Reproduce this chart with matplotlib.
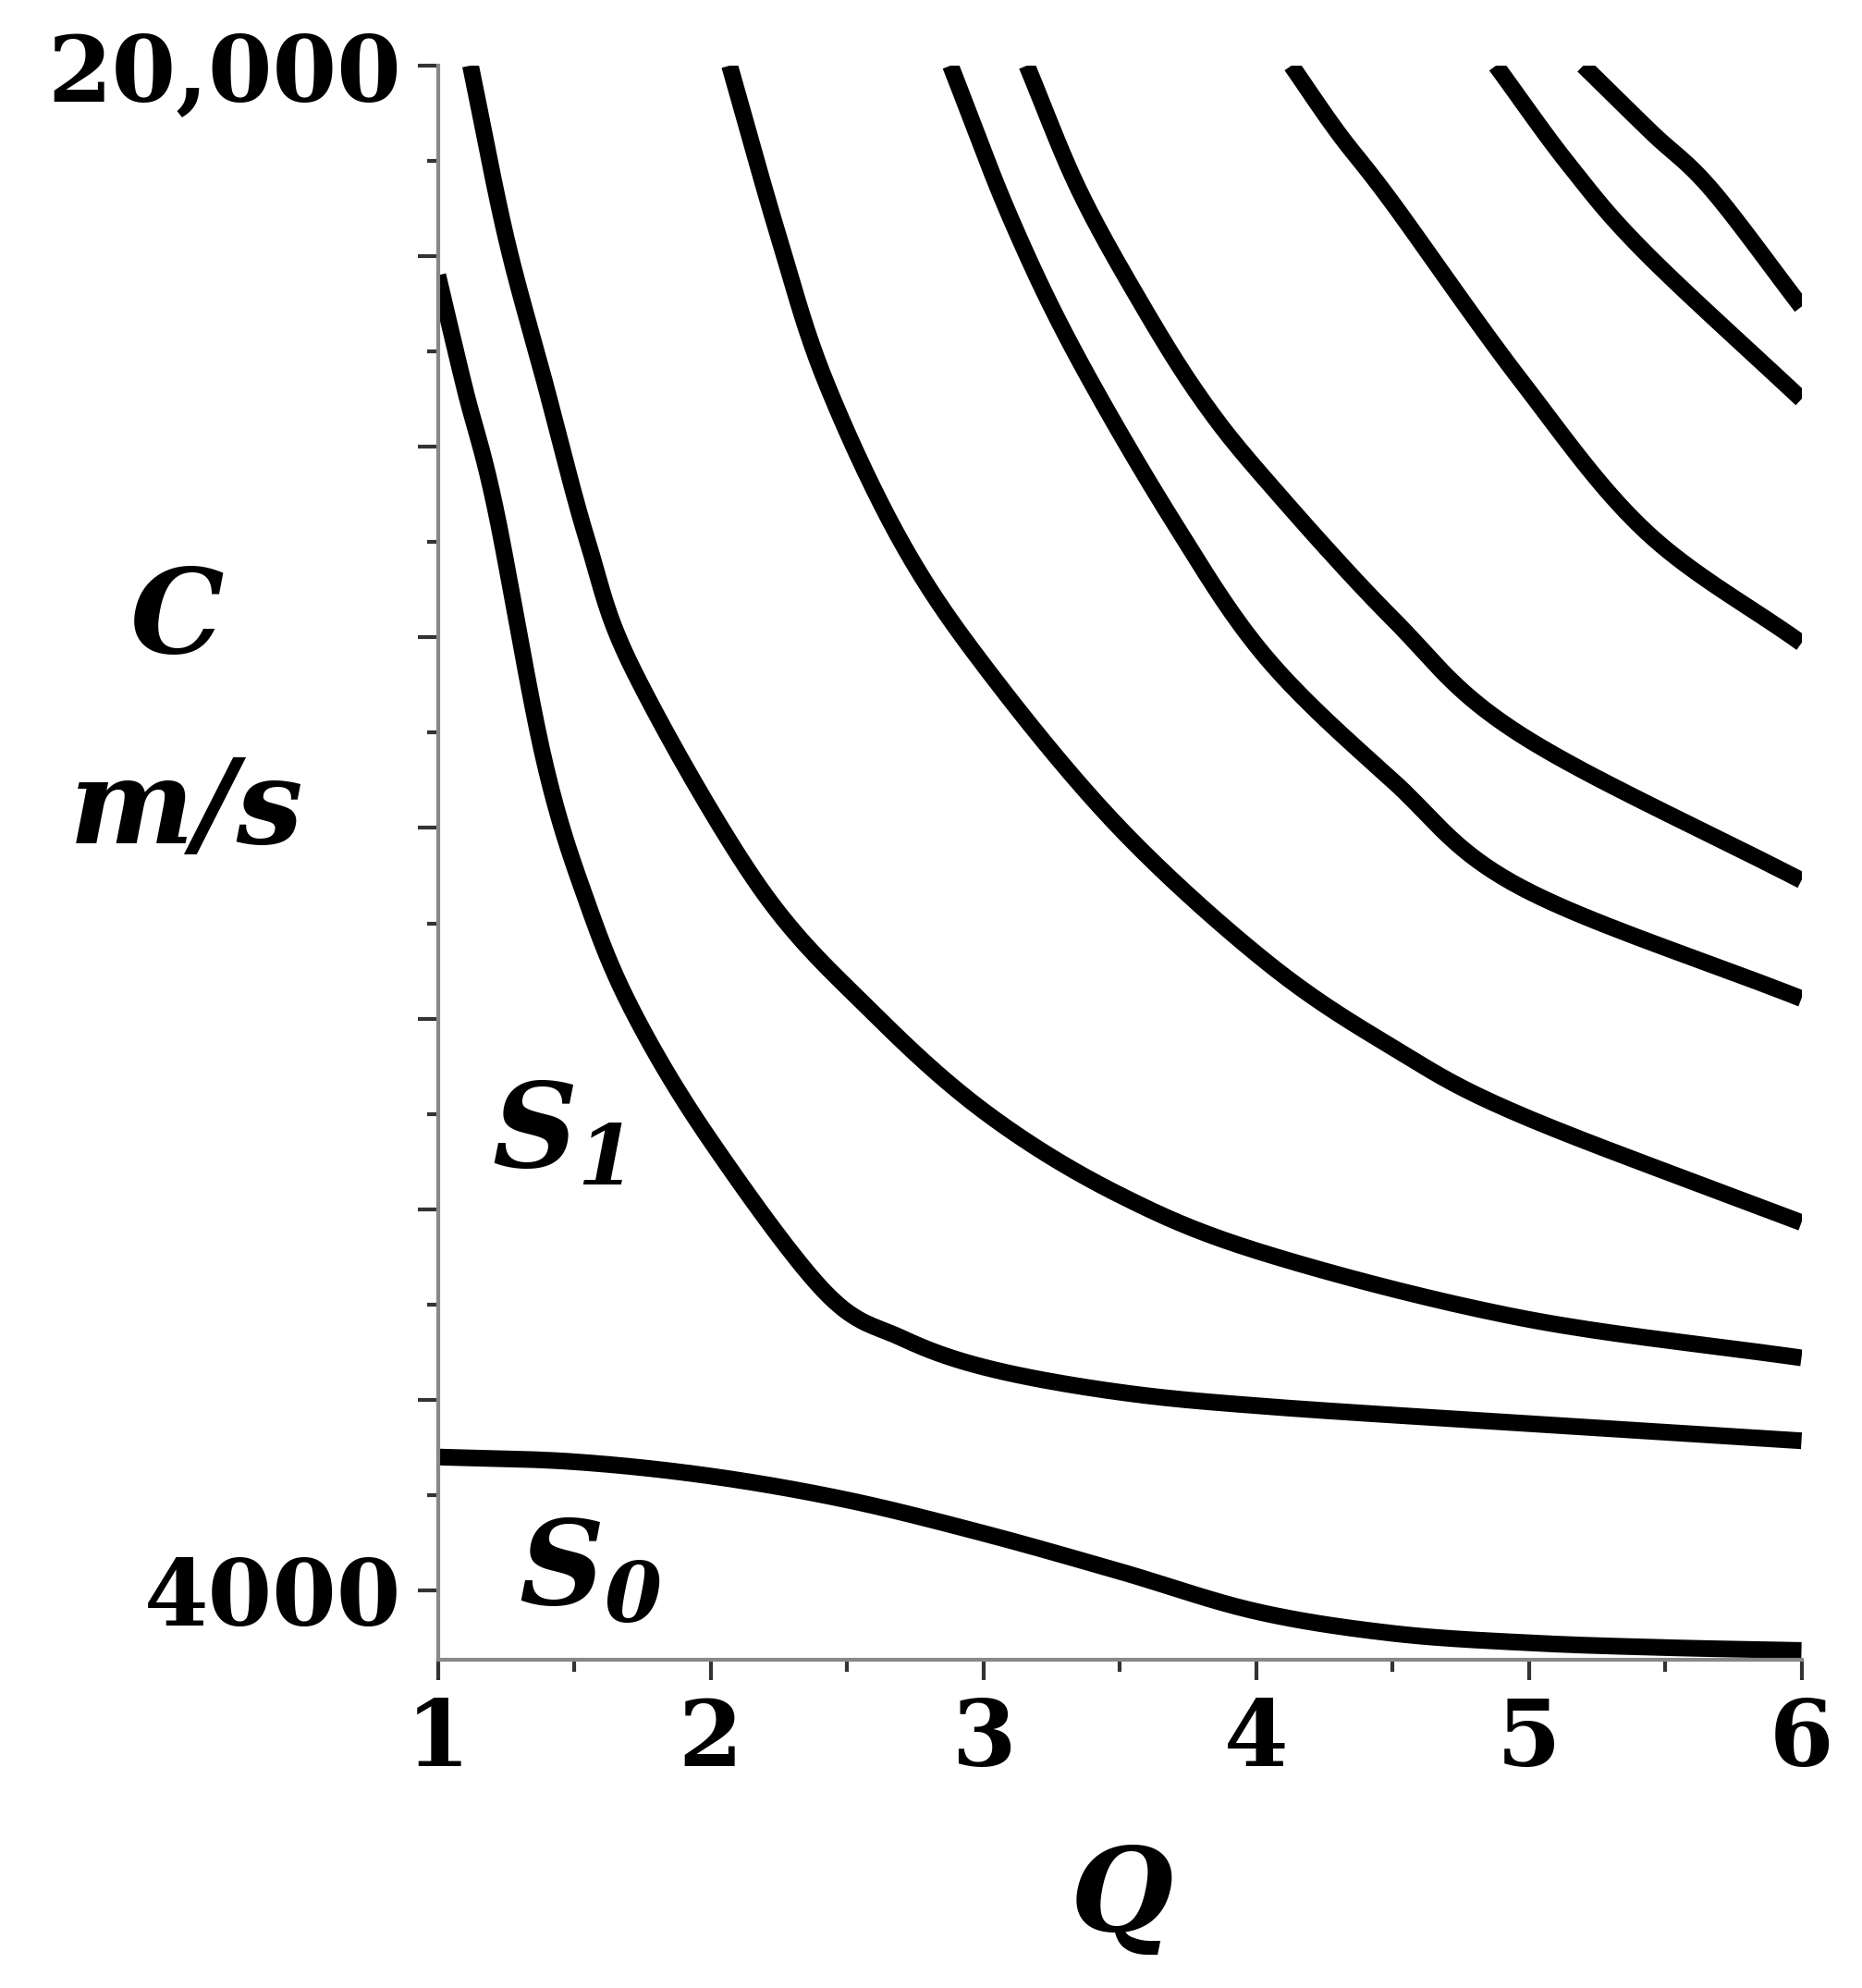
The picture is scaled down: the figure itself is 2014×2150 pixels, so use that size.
import numpy as np
import matplotlib.pyplot as plt

plt.rcParams['mathtext.fontset'] = 'custom'
plt.rcParams['mathtext.it'] = 'DejaVu Serif:bold:italic'
plt.rcParams['mathtext.rm'] = 'DejaVu Serif:bold:italic'

# dispersion branches (Q, C in m/s)
s0_q = [1.0, 1.5, 2.0, 2.5, 3.0, 3.5, 4.0, 4.5, 5.0, 5.5, 6.0]
s0_c = [5400, 5350, 5200, 4950, 4600, 4200, 3780, 3550, 3450, 3400, 3370]
s1_q = [1.0, 1.1, 1.21, 1.39, 1.55, 1.72, 2.0, 2.42, 2.7, 3.02, 3.5, 4.04, 5.0, 6.0]
s1_c = [17800, 16600, 15370, 12710, 11200, 10050, 8720, 7130, 6650, 6330, 6080, 5930, 5750, 5570]
b2_q = [1.12, 1.25, 1.39, 1.55, 1.72, 2.18, 2.6, 3.02, 3.5, 4.04, 4.97, 6.0]
b2_c = [20000, 18200, 16700, 15000, 13640, 11380, 10050, 8990, 8150, 7530, 6860, 6440]
b3_q = [2.07, 2.25, 2.42, 2.7, 3.02, 3.5, 4.04, 4.5, 4.97, 6.0]
b3_c = [20000, 18200, 16700, 15000, 13640, 12000, 10590, 9700, 8990, 7860]
b4_q = [2.88, 3.1, 3.34, 3.7, 4.04, 4.5, 4.97, 6.0]
b4_c = [20000, 18400, 16970, 15200, 13780, 12500, 11380, 10210]
b5_q = [3.16, 3.35, 3.58, 3.8, 4.04, 4.5, 4.97, 6.0]
b5_c = [20000, 18700, 17500, 16500, 15640, 14200, 12980, 11450]
b6_q = [4.13, 4.3, 4.5, 4.97, 5.43, 6.0]
b6_c = [20000, 19300, 18560, 16700, 15110, 13940]
b7_q = [4.88, 5.15, 5.43, 6.0]
b7_c = [20000, 18950, 18030, 16500]
b8_q = [5.2, 5.45, 5.67, 6.0]
b8_c = [20000, 19300, 18700, 17470]

branches = [(s0_q, s0_c), (s1_q, s1_c), (b2_q, b2_c), (b3_q, b3_c), (b4_q, b4_c),
            (b5_q, b5_c), (b6_q, b6_c), (b7_q, b7_c), (b8_q, b8_c)]


def smooth(q, c, n=20):
    # Catmull-Rom through the read points, only to draw a smooth stroke
    p = np.column_stack([q, c]).astype(float)
    p = np.vstack([2 * p[0] - p[1], p, 2 * p[-1] - p[-2]])
    out = []
    t = np.linspace(0, 1, n, endpoint=False)[:, None]
    for i in range(1, len(p) - 2):
        p0, p1, p2, p3 = p[i - 1], p[i], p[i + 1], p[i + 2]
        out.append(0.5 * (2 * p1 + (-p0 + p2) * t + (2 * p0 - 5 * p1 + 4 * p2 - p3) * t ** 2
                          + (-p0 + 3 * p1 - 3 * p2 + p3) * t ** 3))
    out.append(p[-2][None, :])
    out = np.vstack(out)
    return out[:, 0], out[:, 1]


fig = plt.figure(figsize=(20.15, 21.5), dpi=100)
ax = fig.add_axes([0.235, 0.165, 0.732, 0.802])

for q, c in branches:
    xs, ys = smooth(q, c)
    ax.plot(xs, ys, color='black', lw=13, solid_capstyle='butt')

ax.set_xlim(1, 6)
ax.set_ylim(3270, 20000)

for side in ['top', 'right']:
    ax.spines[side].set_visible(False)
for side in ['left', 'bottom']:
    ax.spines[side].set_color('#888888')
    ax.spines[side].set_linewidth(3)

font = dict(family='DejaVu Serif', weight='bold', size=72)
ax.set_xticks([1, 2, 3, 4, 5, 6])
ax.set_xticklabels(['1', '2', '3', '4', '5', '6'], fontdict=font)
ax.set_xticks(np.arange(1.5, 6, 1), minor=True)
yt = np.arange(4000, 20001, 2000)
ax.set_yticks(yt)
ax.set_yticklabels(['4000'] + [''] * 7 + ['20,000'], fontdict=font)
ax.set_yticks(np.arange(5000, 20000, 2000), minor=True)
ax.tick_params(which='major', length=16, width=3, color='#333333', pad=12)
ax.tick_params(which='minor', length=9, width=3, color='#333333')

lab = dict(family='DejaVu Serif', weight='bold', style='italic', size=92)
fig.text(0.095, 0.688, 'C', ha='center', va='center', **lab)
fig.text(0.10, 0.592, 'm/s', ha='center', va='center', **lab)
fig.text(0.602, 0.045, 'Q', ha='center', va='center', **lab)
ax.text(1.44, 8790, r'$S_1$', ha='center', va='center', fontsize=92)
ax.text(1.56, 4200, r'$S_0$', ha='center', va='center', fontsize=92)

fig.savefig('out.png', dpi=100, facecolor='white')
